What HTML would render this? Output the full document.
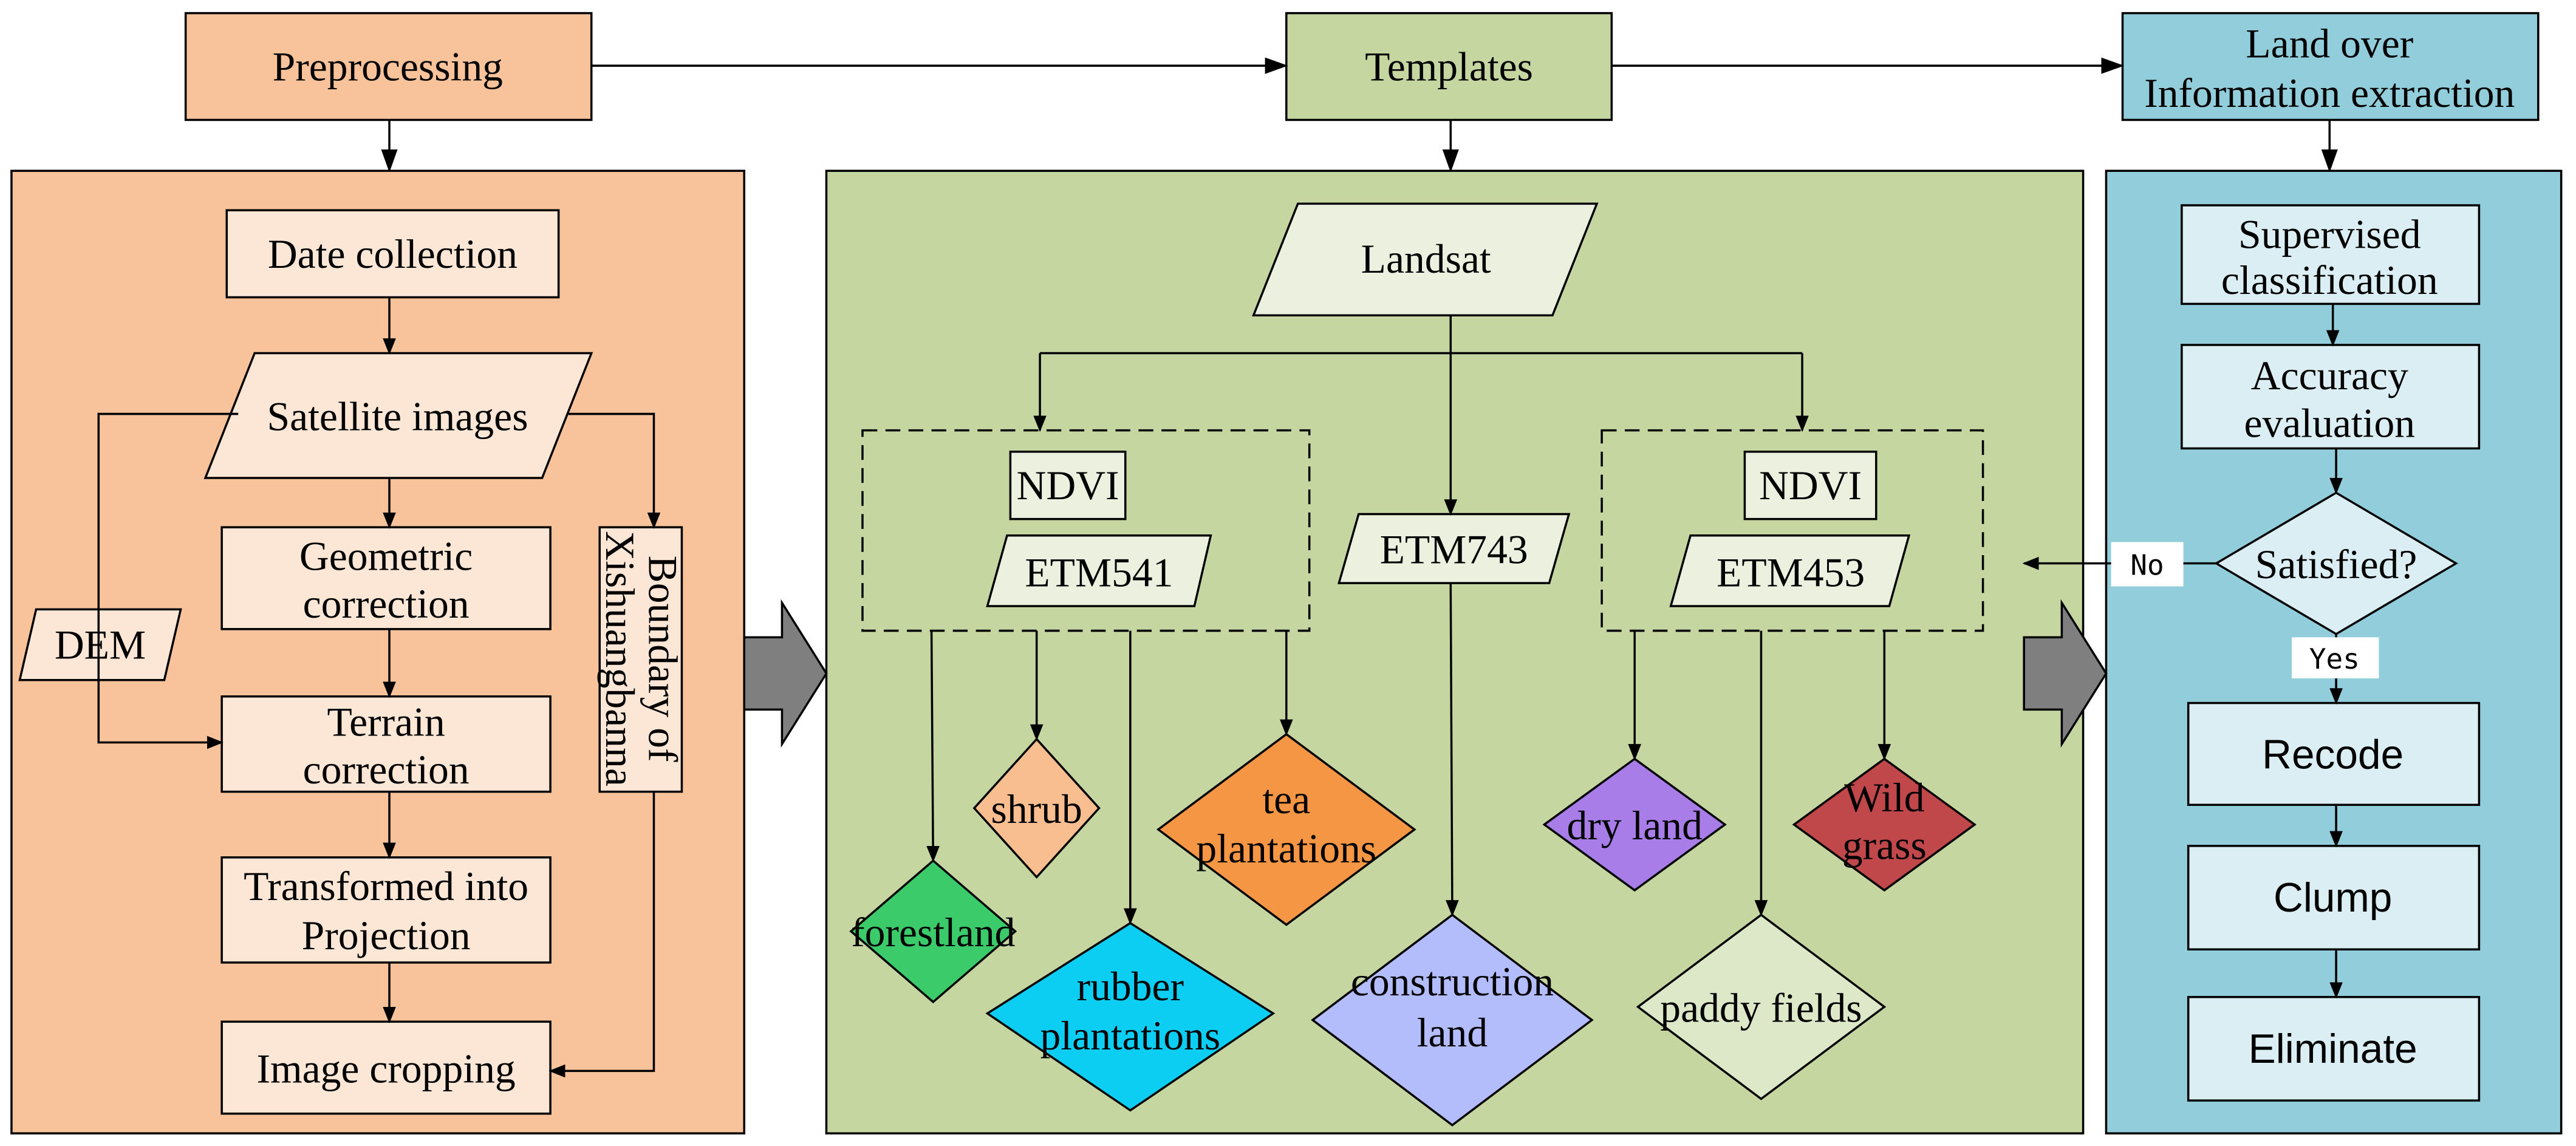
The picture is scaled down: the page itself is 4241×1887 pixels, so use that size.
<!DOCTYPE html>
<html><head><meta charset="utf-8"><style>html,body{margin:0;padding:0;background:#fff}svg{display:block}
text{font-family:"Liberation Serif","DejaVu Serif",serif}
text.s{font-family:"Liberation Sans","DejaVu Sans",sans-serif}
text.m{font-family:"DejaVu Sans Mono","Liberation Mono",monospace}
</style></head>
<body>
<svg width="4241" height="1887" viewBox="0 0 1568 697.7" preserveAspectRatio="none" xmlns="http://www.w3.org/2000/svg" font-size="25">
<defs>
<marker id="a" markerWidth="10" markerHeight="10" refX="9" refY="5" orient="auto" markerUnits="userSpaceOnUse" viewBox="0 0 10 10"><path d="M0,1 L10,5 L0,9 z" fill="#000"/></marker>
<marker id="b" markerWidth="14" markerHeight="14" refX="13" refY="7" orient="auto" markerUnits="userSpaceOnUse" viewBox="0 0 14 14"><path d="M0,2 L14,7 L0,12 z" fill="#000"/></marker>
</defs>
<g stroke="#000" stroke-width="1.3">
<rect x="113" y="8" width="247" height="65" fill="#F8C39A"/>
<rect x="783" y="8" width="198" height="65" fill="#C5D6A0"/>
<rect x="1292" y="8" width="253" height="65" fill="#92CDDC"/>
<line x1="360" y1="40" x2="783" y2="40" marker-end="url(#b)"/>
<line x1="981" y1="40" x2="1292" y2="40" marker-end="url(#b)"/>
<line x1="237" y1="73" x2="237" y2="104" marker-end="url(#b)"/>
<line x1="883" y1="73" x2="883" y2="104" marker-end="url(#b)"/>
<line x1="1418" y1="73" x2="1418" y2="104" marker-end="url(#b)"/>
<rect x="7" y="104" width="446" height="586" fill="#F8C39A"/>
<rect x="503" y="104" width="765" height="586" fill="#C5D6A0"/>
<rect x="1282" y="104" width="277" height="586" fill="#92CDDC"/>
<path d="M453,388 H476 V367 L503,410 L476,453 V432 H453 z" fill="#7F7F7F"/>
<path d="M1232,388 H1255 V367 L1282,410 L1255,453 V432 H1232 z" fill="#7F7F7F"/>

<g fill="#FCE6D6">
<rect x="138" y="128" width="202" height="53"/>
<path d="M155,215 H360 L330,291 H125 z"/>
<rect x="135" y="321" width="200" height="62"/>
<path d="M22,371 H110 L100,414 H12 z"/>
<rect x="135" y="424" width="200" height="58"/>
<rect x="135" y="522" width="200" height="64"/>
<rect x="135" y="622" width="200" height="56"/>
<rect x="365" y="321" width="50" height="161"/>
</g>
<g fill="none">
<line x1="237" y1="181" x2="237" y2="215" marker-end="url(#a)"/>
<line x1="237" y1="291" x2="237" y2="321" marker-end="url(#a)"/>
<line x1="237" y1="383" x2="237" y2="424" marker-end="url(#a)"/>
<line x1="237" y1="482" x2="237" y2="522" marker-end="url(#a)"/>
<line x1="237" y1="586" x2="237" y2="622" marker-end="url(#a)"/>
<polyline points="145,252 60,252 60,452 135,452" marker-end="url(#a)"/>
<polyline points="346,252 398,252 398,321" marker-end="url(#a)"/>
<polyline points="398,482 398,652 335,652" marker-end="url(#a)"/>
</g>

<g fill="#EBF1DE">
<path d="M790,124 H972 L945,192 H763 z"/>
<rect x="615" y="275" width="70" height="41"/>
<path d="M613,326 H737 L727,369 H601 z"/>
<path d="M827,313 H955 L943,355 H815 z"/>
<rect x="1062" y="275" width="80" height="41"/>
<path d="M1029,326 H1162 L1150,369 H1017 z"/>
</g>
<g fill="none" stroke-dasharray="9,5">
<rect x="525" y="262" width="272" height="122"/>
<rect x="975" y="262" width="232" height="122"/>
</g>
<g fill="none">
<line x1="883" y1="192" x2="883" y2="313" marker-end="url(#a)"/>
<polyline points="633,215 633,262" marker-end="url(#a)"/>
<line x1="633" y1="215" x2="1097" y2="215"/>
<polyline points="1097,215 1097,262" marker-end="url(#a)"/>
<line x1="567" y1="384" x2="568" y2="524" marker-end="url(#a)"/>
<line x1="631" y1="384" x2="631" y2="450" marker-end="url(#a)"/>
<line x1="688" y1="384" x2="688" y2="562" marker-end="url(#a)"/>
<line x1="783" y1="384" x2="783" y2="447" marker-end="url(#a)"/>
<line x1="883" y1="355" x2="884" y2="557" marker-end="url(#a)"/>
<line x1="995" y1="384" x2="995" y2="462" marker-end="url(#a)"/>
<line x1="1072" y1="384" x2="1072" y2="557" marker-end="url(#a)"/>
<line x1="1147" y1="384" x2="1147" y2="462" marker-end="url(#a)"/>
</g>
<path d="M568,524 L618,567 L568,610 L518,567 z" fill="#3CCB6A"/>
<path d="M631,450 L669,492 L631,534 L593,492 z" fill="#F8BE8F"/>
<path d="M688,562 L775,617 L688,676 L601,617 z" fill="#0CCDF2"/>
<path d="M783,447 L861,505 L783,563 L705,505 z" fill="#F59645"/>
<path d="M884,557 L969,621 L884,685 L799,621 z" fill="#B3BDFB"/>
<path d="M995,462 L1050,502 L995,542 L940,502 z" fill="#A97DE8"/>
<path d="M1072,557 L1147,613 L1072,669 L997,613 z" fill="#DDE8C8"/>
<path d="M1147,462 L1202,502 L1147,542 L1092,502 z" fill="#C0474A"/>

<g fill="#DBEEF3">
<rect x="1328" y="125" width="181" height="60"/>
<rect x="1328" y="210" width="181" height="63"/>
<path d="M1422,300 L1495,343 L1422,386 L1349,343 z"/>
<rect x="1332" y="428" width="177" height="62"/>
<rect x="1332" y="515" width="177" height="63"/>
<rect x="1332" y="607" width="177" height="63"/>
</g>
<g fill="none">
<line x1="1420" y1="185" x2="1420" y2="210" marker-end="url(#a)"/>
<line x1="1422" y1="273" x2="1422" y2="300" marker-end="url(#a)"/>
<line x1="1349" y1="343" x2="1232" y2="343" marker-end="url(#a)"/>
<line x1="1422" y1="386" x2="1422" y2="428" marker-end="url(#a)"/>
<line x1="1422" y1="490" x2="1422" y2="515" marker-end="url(#a)"/>
<line x1="1422" y1="578" x2="1422" y2="607" marker-end="url(#a)"/>
</g>
</g>
<rect x="1285" y="330" width="44" height="27" fill="#fff"/>
<rect x="1395" y="388" width="53" height="25" fill="#fff"/>

<g text-anchor="middle" fill="#000">
<text x="236" y="49">Preprocessing</text>
<text x="882" y="49">Templates</text>
<text x="1418" y="35">Land over</text>
<text x="1418" y="65">Information extraction</text>
<text x="239" y="163">Date collection</text>
<text x="242" y="262">Satellite images</text>
<text x="235" y="347">Geometric</text>
<text x="235" y="376">correction</text>
<text x="61" y="401">DEM</text>
<text x="235" y="448">Terrain</text>
<text x="235" y="477">correction</text>
<text x="235" y="548">Transformed into</text>
<text x="235" y="578">Projection</text>
<text x="235" y="659">Image cropping</text>
<text transform="translate(390,401) rotate(90)" text-anchor="middle"><tspan x="0" y="-5">Boundary of</tspan><tspan x="0" y="21">Xishuangbanna</tspan></text>

<text x="868" y="166">Landsat</text>
<text x="650" y="304">NDVI</text>
<text x="669" y="357">ETM541</text>
<text x="885" y="343">ETM743</text>
<text x="1102" y="304">NDVI</text>
<text x="1090" y="357">ETM453</text>
<text x="568" y="576">forestland</text>
<text x="631" y="501">shrub</text>
<text x="688" y="609">rubber</text>
<text x="688" y="639">plantations</text>
<text x="783" y="495">tea</text>
<text x="783" y="525">plantations</text>
<text x="884" y="606">construction</text>
<text x="884" y="637">land</text>
<text x="995" y="511">dry land</text>
<text x="1072" y="622">paddy fields</text>
<text x="1147" y="494">Wild</text>
<text x="1147" y="523">grass</text>

<text x="1418" y="151">Supervised</text>
<text x="1418" y="179">classification</text>
<text x="1418" y="237">Accuracy</text>
<text x="1418" y="266">evaluation</text>
<text x="1422" y="352">Satisfied?</text>
<text class="s" x="1420" y="468">Recode</text>
<text class="s" x="1420" y="555">Clump</text>
<text class="s" x="1420" y="647">Eliminate</text>
<text class="m" x="1307" y="350" font-size="17">No</text>
<text class="m" x="1421" y="407" font-size="17">Yes</text>
</g>
</svg>
</body></html>
